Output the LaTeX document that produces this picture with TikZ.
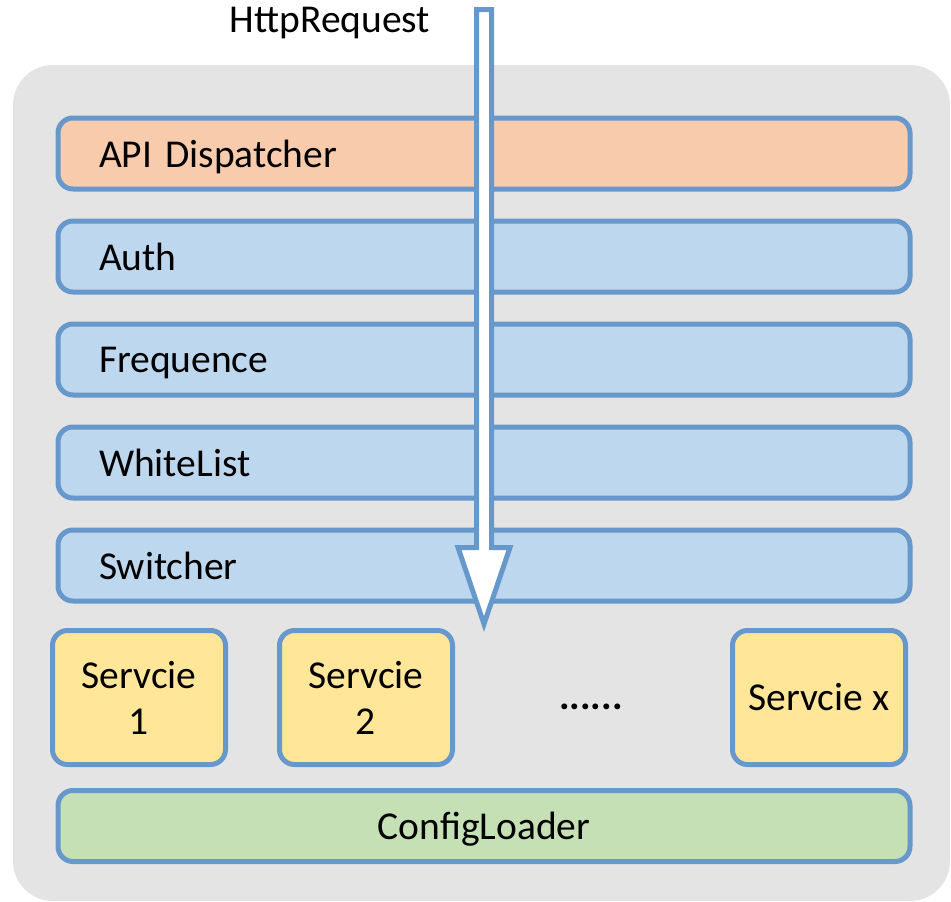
\documentclass[tikz,border=0pt]{standalone}
\usepackage{fontspec}
\setmainfont{Carlito}
\usepackage{xcolor}
\usetikzlibrary{positioning, calc}
\definecolor{edgeblue}{RGB}{103, 152, 204}
\definecolor{layerblue}{RGB}{189, 215, 238}
\definecolor{dispatchorange}{RGB}{248, 203, 173}
\definecolor{serviceyellow}{RGB}{255, 230, 153}
\definecolor{loadergreen}{RGB}{197, 224, 180}
\definecolor{framegray}{RGB}{228, 228, 228}

\begin{document}
\begin{tikzpicture}[
    x=1pt, y=-1pt,
    node distance=27pt and 49pt,
    every node/.style={font=\fontsize{39.5}{46}\selectfont},
    layer/.style={draw=edgeblue, line width=5pt, fill=layerblue, rounded corners=15pt, text width=770pt, inner xsep=41pt, minimum height=71pt, text depth=0pt, align=left},
    service/.style={draw=edgeblue, line width=5pt, fill=serviceyellow, rounded corners=15pt, minimum width=173pt, minimum height=134pt, inner sep=2pt, align=center},
    flow/.style={draw=edgeblue, line width=5pt, fill=white}
]
    \useasboundingbox (0,0) rectangle (951,902);

    % Background frame
    \fill[framegray, rounded corners=40pt] (13,65) rectangle (950,901);

    % Nodes - layer stack
    \node[layer, fill=dispatchorange] (dispatch) at (484,153.5) {API Dispatcher};
    \node[layer, below=of dispatch] (auth) {Auth};
    \node[layer, below=of auth] (freq) {Frequence};
    \node[layer, below=of freq] (white) {WhiteList};
    \node[layer, below=of white] (switch) {Switcher};

    % Nodes - services
    \node[service] (svc1) at (139,697.5) {Servcie\\1};
    \node[service, right=of svc1] (svc2) {Servcie\\2};
    \node[service] (svcx) at (819,697.5) {Servcie x};
    \node[font=\fontsize{39.5}{46}\selectfont\bfseries] (more) at (591,707) {......};

    % Nodes - config loader
    \node[layer, fill=loadergreen, align=center] (loader) at (484,826) {ConfigLoader};

    % Request arrow
    \node (req) at (330,23) {HttpRequest};
    \coordinate (reqtop) at (484,9.5);
    \coordinate (reqtip) at (484,624);
    \draw[flow] ($(reqtop)+(-7.5,0)$) -- ($(reqtop)+(7.5,0)$) -- (491.5,547.5) -- (510,547.5)
        -- (reqtip) -- (458,547.5) -- (476.5,547.5) -- cycle;
\end{tikzpicture}
\end{document}
